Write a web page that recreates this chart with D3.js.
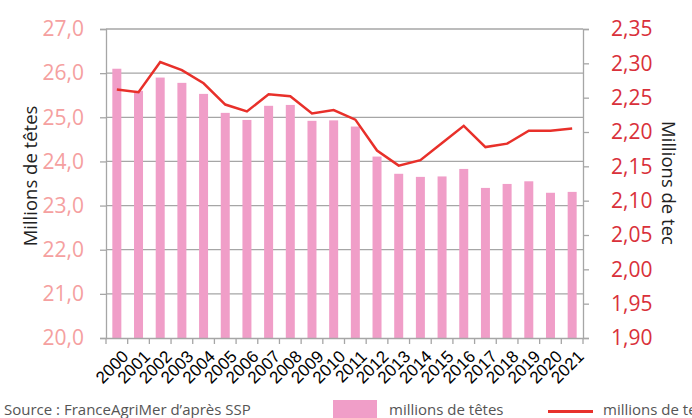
<!DOCTYPE html>
<html>
<head>
<meta charset="utf-8">
<script src="https://cdn.jsdelivr.net/npm/d3@7"></script>
<style>
  body { margin: 0; background: #fff; overflow: hidden; }
  svg { display: block; font-family: "Open Sans", sans-serif; }
</style>
</head>
<body>
<div id="chart"></div>
<script>
// data
var years = ["2000","2001","2002","2003","2004","2005","2006","2007","2008","2009","2010",
             "2011","2012","2013","2014","2015","2016","2017","2018","2019","2020","2021"];
var tetes = [26.10, 25.60, 25.90, 25.78, 25.53, 25.10, 24.94, 25.26, 25.28, 24.92, 24.93,
             24.79, 24.11, 23.72, 23.65, 23.66, 23.83, 23.40, 23.49, 23.55, 23.29, 23.31];
var tec = [2.262, 2.258, 2.302, 2.290, 2.271, 2.240, 2.230, 2.255, 2.252, 2.227, 2.232,
           2.218, 2.173, 2.151, 2.159, 2.184, 2.209, 2.178, 2.183, 2.202, 2.202, 2.205];
var leftTicks = [20, 21, 22, 23, 24, 25, 26, 27];
var rightTicks = [1.90, 1.95, 2.00, 2.05, 2.10, 2.15, 2.20, 2.25, 2.30, 2.35];

var w = 692, h = 418;
var mLeft = 106, mRight = 583, mTop = 29, mBottom = 338;
var fmt1 = function(d){ return d3.format(".1f")(d).replace(".", ","); };
var fmt2 = function(d){ return d3.format(".2f")(d).replace(".", ","); };

var svg = d3.select("#chart").append("svg")
    .attr("width", w)
    .attr("height", h);

var x = d3.scaleBand().domain(years).range([mLeft, mRight]);
var yL = d3.scaleLinear().domain([20, 27]).range([mBottom, mTop]);
var yR = d3.scaleLinear().domain([1.90, 2.35]).range([mBottom, mTop]);

// gridlines
svg.append("g")
    .selectAll("line")
    .data(leftTicks.slice(1))
    .enter()
    .append("line")
    .attr("x1", mLeft).attr("x2", mRight)
    .attr("y1", function(d){ return yL(d); })
    .attr("y2", function(d){ return yL(d); });

// bars
svg.append("g")
    .selectAll("rect")
    .data(tetes)
    .enter()
    .append("rect")
    .attr("x", function(d, i){ return x(years[i]) + x.bandwidth() / 2 - 4.5; })
    .attr("y", function(d){ return yL(d); })
    .attr("width", 9)
    .attr("height", function(d){ return mBottom - yL(d); })
    .attr("fill", "#f09ec8");

// line
var line = d3.line()
    .x(function(d, i){ return x(years[i]) + x.bandwidth() / 2; })
    .y(function(d){ return yR(d); });

svg.append("path")
    .datum(tec)
    .attr("d", line)
    .attr("fill", "none")
    .attr("stroke", "#e8302a")
    .attr("stroke-width", 2.5);

// left axis
var axL = svg.append("g")
    .attr("transform", "translate(" + mLeft + ",0)")
    .call(d3.axisLeft(yL).tickValues(leftTicks).tickFormat(fmt1).tickSize(6).tickPadding(16));
axL.selectAll("text")
    .attr("fill", "#f5a0a0")
    .style("font-size", "21px")
    .style("font-family", "Open Sans");

// right axis
var axR = svg.append("g")
    .attr("transform", "translate(" + mRight + ",0)")
    .call(d3.axisRight(yR).tickValues(rightTicks).tickFormat(fmt2).tickSize(6).tickPadding(22));
axR.selectAll("text")
    .attr("fill", "#d9303a")
    .style("font-size", "21px")
    .style("font-family", "Open Sans");

// bottom axis
var axB = svg.append("g")
    .attr("transform", "translate(0," + mBottom + ")")
    .call(d3.axisBottom(x).tickSize(0).tickFormat(""));

// ticks between categories
axB.append("g")
    .selectAll("line")
    .data(years.concat(["end"]))
    .enter()
    .append("line")
    .attr("x1", function(d, i){ return mLeft + i * x.step(); })
    .attr("x2", function(d, i){ return mLeft + i * x.step(); })
    .attr("y1", 0)
    .attr("y2", 6);

svg.selectAll(".domain, .tick line, g line")
    .attr("stroke", "#a6a6a6")
    .attr("stroke-width", 1.3);

svg.append("g")
    .selectAll("text")
    .data(years)
    .enter()
    .append("text")
    .attr("transform", function(d){
        return "translate(" + (x(d) + x.bandwidth() / 2 + 4) + "," + (mBottom + 11) + ") rotate(-45)";
    })
    .attr("text-anchor", "end")
    .attr("dy", "0.72em")
    .style("font-family", "Liberation Sans")
    .style("font-size", "17px")
    .attr("fill", "#000")
    .text(function(d){ return d; });

// axis titles
svg.append("text")
    .attr("transform", "translate(37,176) rotate(-90)")
    .attr("text-anchor", "middle")
    .style("font-size", "18.5px")
    .attr("fill", "#222")
    .text("Millions de têtes");

svg.append("text")
    .attr("transform", "translate(662,183) rotate(90)")
    .attr("text-anchor", "middle")
    .style("font-size", "18.5px")
    .attr("fill", "#222")
    .text("Millions de tec");

// source + legend
svg.append("text")
    .attr("x", 4).attr("y", 415)
    .style("font-size", "15px")
    .attr("fill", "#555")
    .text("Source : FranceAgriMer d\u2019après SSP");

svg.append("rect")
    .attr("x", 333).attr("y", 400)
    .attr("width", 44).attr("height", 18)
    .attr("fill", "#f09ec8");

svg.append("text")
    .attr("x", 389).attr("y", 415)
    .style("font-size", "15px")
    .attr("fill", "#555")
    .text("millions de têtes");

svg.append("line")
    .attr("x1", 548).attr("x2", 593)
    .attr("y1", 411.5).attr("y2", 411.5)
    .attr("stroke", "#e8302a")
    .attr("stroke-width", 3);

svg.append("text")
    .attr("x", 603).attr("y", 415)
    .style("font-size", "15px")
    .attr("fill", "#555")
    .text("millions de tec");
</script>
</body>
</html>
